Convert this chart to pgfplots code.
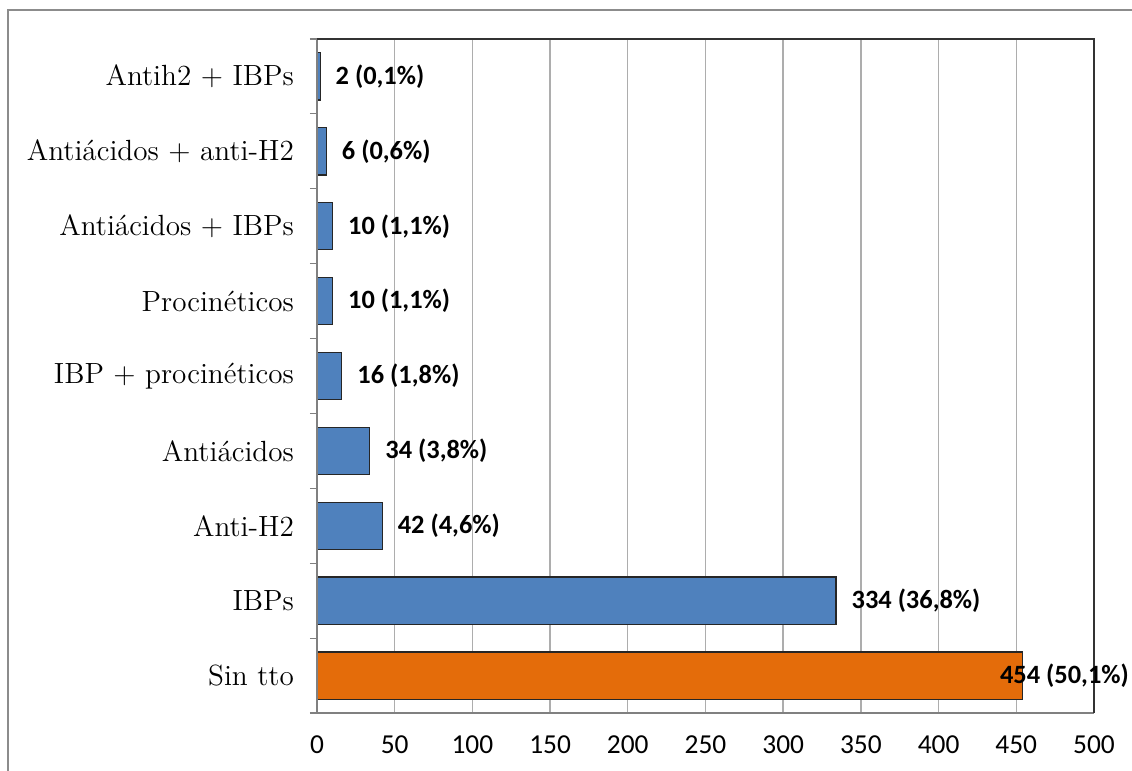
\documentclass[border=0pt]{standalone}
\usepackage{pgfplots}
\pgfplotsset{compat=1.18}
\usepackage{fontspec}
\newfontfamily\carlito{Carlito}
\definecolor{barblue}{HTML}{4F81BD}
\definecolor{barorange}{HTML}{E46C0A}
\definecolor{gridgray}{HTML}{ADADAD}
\definecolor{framegray}{HTML}{8C8C8C}
\begin{document}
\begin{tikzpicture}
\useasboundingbox (0,0) rectangle (566pt,385.5pt);
% outer chart frame (only top and left edges fall inside the page)
\draw[framegray, line width=1.4pt] (4pt,0) -- (4pt,380.5pt) -- (566pt,380.5pt);
\begin{axis}[
  at={(158.5pt,29pt)}, anchor=south west,
  scale only axis, width=388.5pt, height=337pt,
  xbar, bar width=0.63,
  xmin=0, xmax=500,
  ymin=-0.5, ymax=8.5,
  xtick={0,50,...,500},
  ytick={0,...,8},
  yticklabels={Sin tto, IBPs, Anti-H2, Antiácidos, IBP + procinéticos, Procinéticos, Antiácidos + IBPs, Antiácidos + anti-H2, Antih2 + IBPs},
  minor ytick={-0.5,0.5,...,8.5},
  tick pos=left,
  major tick length=0pt,
  minor tick length=3.5pt,
  tick align=outside,
  xtick style={draw=none},
  extra x ticks={0,50,...,500},
  extra x tick labels={},
  extra x tick style={grid=none, major tick length=4pt, tick style={draw=gray, densely dotted, line width=0.5pt}},
  minor tick style={draw=gray, line width=0.6pt},
  xmajorgrids, major grid style={gridgray, line width=0.7pt},
  axis line style={draw=none},
  yticklabel style={font=\fontsize{14.6}{17}\selectfont, xshift=-8pt},
  xticklabel style={font=\carlito\fontsize{13.7}{16}\selectfont, yshift=-8pt},
  /pgf/number format/assume math mode=true,
  nodes near coords,
  point meta=explicit symbolic,
  every node near coord/.append style={font=\carlito\bfseries\fontsize{13.2}{16}\selectfont, anchor=west, inner sep=0pt, xshift=7.5pt},
  clip=false,
]
\addplot[fill=barblue, draw=black!85, line width=0.6pt, bar shift=0pt] coordinates {
  (334,1) [334 (36,8\%)]
  (42,2) [42 (4,6\%)]
  (34,3) [34 (3,8\%)]
  (16,4) [16 (1,8\%)]
  (10,5) [10 (1,1\%)]
  (10,6) [10 (1,1\%)]
  (6,7) [6 (0,6\%)]
  (2,8) [2 (0,1\%)]
};
% the last label sits back over the end of its bar so that it fits
\addplot[fill=barorange, draw=black!85, line width=0.6pt, bar shift=0pt,
  every node near coord/.append style={xshift=-19pt}] coordinates {
  (454,0) [454 (50,1\%)]
};
\draw[gray, line width=0.7pt] (rel axis cs:0,1) -- (rel axis cs:0,0) -- (rel axis cs:1,0);
\draw[black!80, line width=0.8pt] (rel axis cs:0,1) -- (rel axis cs:1,1) -- (rel axis cs:1,0);
\end{axis}
\end{tikzpicture}
\end{document}
